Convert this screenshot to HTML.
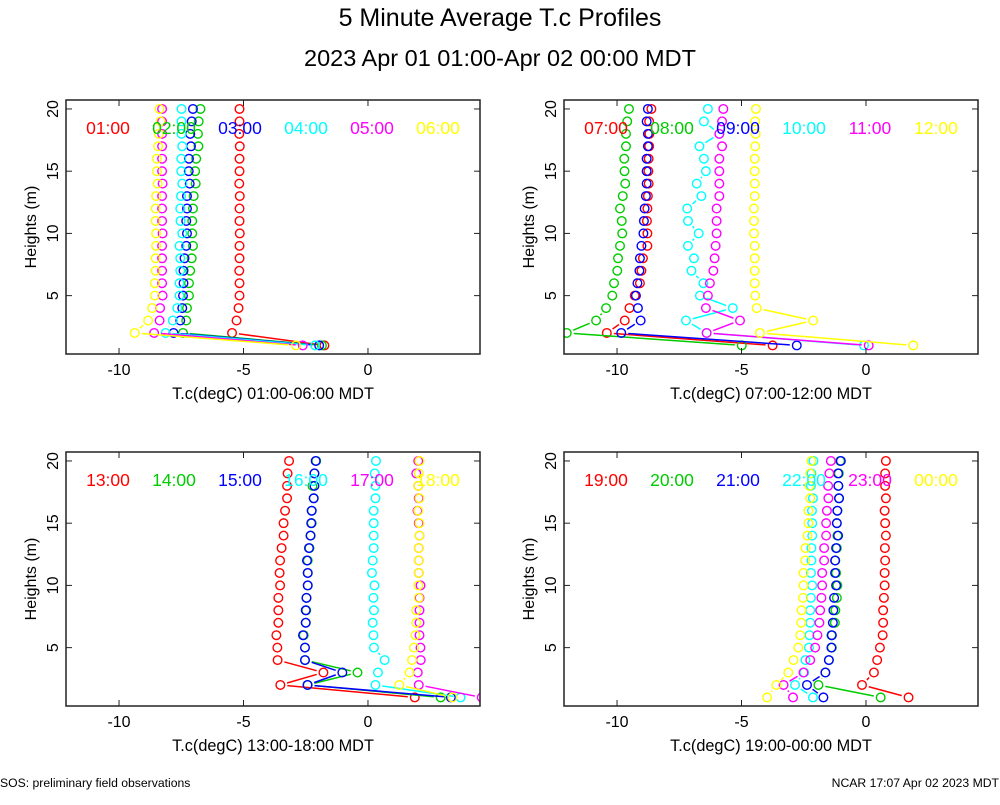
<!DOCTYPE html>
<html><head><meta charset="utf-8"><style>
body{margin:0;background:#fff;font-family:"Liberation Sans",sans-serif}
svg text{font-family:"Liberation Sans",sans-serif}
</style></head><body>
<svg id="c" width="1000" height="800" xmlns="http://www.w3.org/2000/svg">
<text x="500" y="26" text-anchor="middle" font-size="25">5 Minute Average T.c Profiles</text>
<text x="500" y="66" text-anchor="middle" font-size="23.5">2023 Apr 01 01:00-Apr 02 00:00 MDT</text>
<text x="0" y="787" font-size="12.2">SOS: preliminary field observations</text>
<text x="999" y="787" font-size="12.2" text-anchor="end">NCAR 17:07 Apr 02 2023 MDT</text>
</svg>
<script>
const heights=[20,19,18,17,16,15,14,13,12,11,10,9,8,7,6,5,4,3,2,1];
const xTicks=[-10,-5,0];
const yTicks=[5,10,15,20];
const colors=["#ff0000","#00cc00","#0000ff","#00ffff","#ff00ff","#ffff00"];
const labels1=["01:00","02:00","03:00","04:00","05:00","06:00"];
const labels2=["07:00","08:00","09:00","10:00","11:00","12:00"];
const labels3=["13:00","14:00","15:00","16:00","17:00","18:00"];
const labels4=["19:00","20:00","21:00","22:00","23:00","00:00"];
const s0100=[-5.16,-5.16,-5.17,-5.15,-5.16,-5.16,-5.17,-5.15,-5.16,-5.16,-5.15,-5.16,-5.16,-5.17,-5.16,-5.16,-5.2,-5.28,-5.46,-1.75];
const s0200=[-6.73,-6.8,-6.83,-6.81,-6.9,-6.94,-6.92,-7.0,-7.03,-7.06,-7.06,-7.03,-7.08,-7.14,-7.19,-7.19,-7.27,-7.3,-7.43,-1.85];
const s0300=[-7.03,-7.08,-7.14,-7.11,-7.19,-7.2,-7.16,-7.27,-7.27,-7.3,-7.27,-7.3,-7.37,-7.41,-7.41,-7.43,-7.46,-7.54,-7.81,-1.96];
const s0400=[-7.49,-7.49,-7.49,-7.46,-7.5,-7.5,-7.46,-7.51,-7.54,-7.53,-7.46,-7.57,-7.54,-7.54,-7.57,-7.57,-7.66,-7.84,-8.13,-2.12];
const s0500=[-8.27,-8.27,-8.27,-8.27,-8.27,-8.27,-8.25,-8.27,-8.27,-8.27,-8.25,-8.27,-8.27,-8.27,-8.27,-8.25,-8.35,-8.37,-8.59,-2.62];
const s0600=[-8.37,-8.33,-8.4,-8.43,-8.48,-8.48,-8.45,-8.51,-8.53,-8.53,-8.51,-8.51,-8.53,-8.53,-8.56,-8.56,-8.67,-8.83,-9.37,-2.89];
const s0700=[-8.62,-8.71,-8.7,-8.71,-8.73,-8.74,-8.73,-8.76,-8.78,-8.8,-8.78,-8.78,-8.96,-9.02,-9.08,-9.29,-9.5,-9.69,-10.41,-3.75];
const s0800=[-9.52,-9.59,-9.64,-9.64,-9.71,-9.7,-9.67,-9.77,-9.88,-9.81,-9.79,-9.88,-9.96,-9.99,-10.12,-10.19,-10.44,-10.84,-12.02,-4.99];
const s0900=[-8.76,-8.81,-8.76,-8.76,-8.81,-8.81,-8.81,-8.84,-8.89,-8.92,-8.94,-9.02,-9.08,-9.1,-9.18,-9.24,-9.16,-9.05,-9.83,-2.78];
const s1000=[-6.35,-6.51,-5.89,-6.69,-6.51,-6.43,-6.8,-6.61,-7.18,-7.15,-6.72,-7.15,-6.91,-7.01,-6.53,-6.67,-5.35,-7.23,-6.4,-0.08];
const s1100=[-5.73,-5.78,-5.89,-5.78,-5.89,-5.89,-5.89,-5.89,-6.0,-6.0,-6.0,-6.04,-6.08,-6.13,-6.27,-6.35,-6.43,-5.06,-6.4,0.11];
const s1200=[-4.42,-4.45,-4.43,-4.45,-4.47,-4.47,-4.47,-4.47,-4.5,-4.5,-4.5,-4.47,-4.47,-4.47,-4.47,-4.45,-4.39,-2.12,-4.26,1.9];
const s1300=[-3.17,-3.23,-3.25,-3.25,-3.33,-3.39,-3.39,-3.47,-3.53,-3.55,-3.53,-3.6,-3.6,-3.6,-3.68,-3.64,-3.63,-1.79,-3.52,1.88];
const s1400=[-2.08,-2.15,-2.23,-2.18,-2.26,-2.26,-2.3,-2.35,-2.42,-2.42,-2.42,-2.47,-2.48,-2.5,-2.58,-2.53,-2.53,-0.42,-2.42,2.92];
const s1500=[-2.1,-2.15,-2.15,-2.18,-2.26,-2.28,-2.31,-2.37,-2.45,-2.42,-2.42,-2.47,-2.5,-2.5,-2.61,-2.53,-2.53,-1.03,-2.43,3.33];
const s1600=[0.32,0.27,0.3,0.3,0.23,0.23,0.23,0.23,0.19,0.16,0.26,0.22,0.24,0.19,0.22,0.24,0.67,0.4,0.3,3.72];
const s1700=[2.02,1.94,2.02,2.04,1.99,2.04,2.07,2.04,2.04,2.04,2.11,2.07,2.07,2.07,2.07,2.11,2.12,2.0,2.04,4.57];
const s1800=[2.07,2.04,2.02,2.07,2.02,2.07,2.07,2.04,2.04,2.04,2.02,2.04,1.94,1.94,1.91,1.85,1.77,1.67,1.26,3.39];
const s1900=[0.8,0.77,0.77,0.8,0.75,0.77,0.8,0.76,0.77,0.75,0.75,0.72,0.69,0.69,0.67,0.56,0.45,0.32,-0.16,1.71];
const s2000=[-1.04,-1.09,-1.11,-1.09,-1.15,-1.17,-1.15,-1.17,-1.23,-1.2,-1.15,-1.17,-1.23,-1.25,-1.39,-1.37,-1.49,-1.63,-1.91,0.59];
const s2100=[-1.01,-1.12,-1.11,-1.08,-1.15,-1.17,-1.12,-1.2,-1.24,-1.24,-1.2,-1.28,-1.31,-1.33,-1.37,-1.39,-1.49,-1.63,-2.37,-1.71];
const s2200=[-2.11,-2.19,-2.21,-2.13,-2.17,-2.16,-2.16,-2.19,-2.19,-2.21,-2.16,-2.21,-2.24,-2.24,-2.27,-2.29,-2.43,-2.48,-2.85,-2.13];
const s2300=[-1.41,-1.47,-1.52,-1.51,-1.57,-1.6,-1.6,-1.68,-1.68,-1.76,-1.76,-1.79,-1.84,-1.87,-1.95,-2.04,-2.24,-2.51,-3.31,-2.93];
const s0000=[-2.19,-2.24,-2.27,-2.24,-2.31,-2.31,-2.35,-2.43,-2.44,-2.51,-2.51,-2.53,-2.59,-2.6,-2.64,-2.72,-2.91,-3.12,-3.6,-3.97];

const NS="http://www.w3.org/2000/svg";
const svg=document.getElementById('c');
function mk(tag,attrs,parent){const e=document.createElementNS(NS,tag);for(const k in attrs)e.setAttribute(k,attrs[k]);(parent||svg).appendChild(e);return e;}
const XMIN=-12.13,XMAX=4.5,YMIN=0.31,YMAX=20.72;
const panels=[
 {x0:66,y0:100,series:[s0100,s0200,s0300,s0400,s0500,s0600],labels:labels1,title:"T.c(degC) 01:00-06:00 MDT"},
 {x0:564,y0:100,series:[s0700,s0800,s0900,s1000,s1100,s1200],labels:labels2,title:"T.c(degC) 07:00-12:00 MDT"},
 {x0:66,y0:452,series:[s1300,s1400,s1500,s1600,s1700,s1800],labels:labels3,title:"T.c(degC) 13:00-18:00 MDT"},
 {x0:564,y0:452,series:[s1900,s2000,s2100,s2200,s2300,s0000],labels:labels4,title:"T.c(degC) 19:00-00:00 MDT"}];
const W=414,H=254;
panels.forEach((p,pi)=>{
 const g=mk('g',{});
 
 
 const sx=v=>p.x0+(v-XMIN)/(XMAX-XMIN)*W;
 const sy=v=>p.y0+H-(v-YMIN)/(YMAX-YMIN)*H;
 const cid='clip'+pi;
 const cp=mk('clipPath',{id:cid},g);mk('rect',{x:p.x0,y:p.y0,width:W,height:H},cp);
 const plot=mk('g',{'clip-path':'url(#'+cid+')'},g);
 p.series.forEach((s,si)=>{
  const sg=mk('g',{},plot);
  
  
  const c=colors[si], r=4.3, gap=7;
  for(let i=0;i<s.length-1;i++){
   const x1=sx(s[i]),y1=sy(heights[i]),x2=sx(s[i+1]),y2=sy(heights[i+1]);
   const d=Math.hypot(x2-x1,y2-y1);
   if(d>2*gap){const ux=(x2-x1)/d,uy=(y2-y1)/d;
    const ln=mk('line',{x1:x1+ux*gap,y1:y1+uy*gap,x2:x2-ux*gap,y2:y2-uy*gap,stroke:c,'stroke-width':1.5},sg);
    
    }
  }
  s.forEach((v,i)=>{
   const ci=mk('circle',{cx:sx(v),cy:sy(heights[i]),r:r,fill:'none',stroke:c,'stroke-width':1.4},sg);
   
   
  });
  const lt=mk('text',{x:p.x0+42+si*66,y:p.y0+34,'text-anchor':'middle','font-size':17.5,fill:c},g);
  lt.textContent=p.labels[si];
  
  
 });
 const fr=mk('rect',{x:p.x0,y:p.y0,width:W,height:H,fill:'none',stroke:'#222','stroke-width':1.5},g);
 
 
 xTicks.forEach(t=>{const x=sx(t);
  mk('line',{x1:x,y1:p.y0+H,x2:x,y2:p.y0+H-6,stroke:'#222'},g);
  mk('line',{x1:x,y1:p.y0,x2:x,y2:p.y0+6,stroke:'#222'},g);
  const tx=mk('text',{x:x,y:p.y0+H+21,'text-anchor':'middle','font-size':16},g);tx.textContent=t;
  
  });
 yTicks.forEach(t=>{const y=sy(t);
  mk('line',{x1:p.x0,y1:y,x2:p.x0+6,y2:y,stroke:'#222'},g);
  mk('line',{x1:p.x0+W,y1:y,x2:p.x0+W-6,y2:y,stroke:'#222'},g);
  const ty=mk('text',{x:p.x0-8,y:y,'text-anchor':'middle','font-size':16,transform:'rotate(-90 '+(p.x0-8)+' '+y+')'},g);ty.textContent=t;
  
  });
 const xt=mk('text',{x:p.x0+W/2,y:p.y0+H+45,'text-anchor':'middle','font-size':16.3},g);xt.textContent=p.title;
 
 
 const yx=p.x0-30,yy=p.y0+H/2;
 const yt=mk('text',{x:yx,y:yy,'text-anchor':'middle','font-size':16,transform:'rotate(-90 '+yx+' '+yy+')'},g);yt.textContent="Heights (m)";
 
 
});
</script>
</body></html>
